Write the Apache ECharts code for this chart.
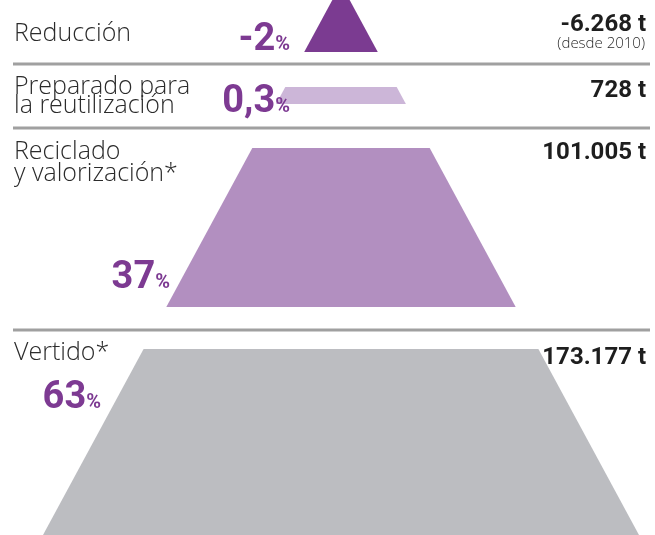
<!DOCTYPE html>
<html>
<head>
<meta charset="utf-8">
<script src="https://cdn.jsdelivr.net/npm/echarts@6/dist/echarts.min.js"></script>
<style>
html,body{margin:0;padding:0;background:#fff;}
#chart{width:655px;height:535px;}
</style>
</head>
<body>
<div id="chart"></div>
<script>
// ---- Data ----
const categories = ['Reducción', 'Preparado para\nla reutilización', 'Reciclado\ny valorización*', 'Vertido*'];
const percentages = [-2, 0.3, 37, 63];
const tonnes = [-6268, 728, 101005, 173177];
const notes = ['(desde 2010)', '', '', ''];
// pyramid depth bands (0 = apex, 100 = base)
const bandStart = [0, 18.69, 29.76, 66.24];
const bandEnd = [12.34, 21.78, 58.62, 100];

// ---- Layout / styles (not data) ----
const bandColors = ['#7b3b91', '#ccb6d8', '#b28fc0', '#bcbdc1'];
const sepDepth = [null, 14.52, 26.13, 62.79];
const labelY = [34, 87, 152, 353];
const labelGap = [0, 19, 22, 0];
const pctRight = [290, 290, 170, 101];
const pctBaseline = [50, 112, 288, 408];
const valueY = [25, 91, 152.5, 358];

const LABEL_FONT = "'Open Sans', 'Roboto', sans-serif";
const BOLD_FONT = "'Roboto', 'Liberation Sans', sans-serif";

function fmtPct(v) { return String(v).replace('.', ','); }
function fmtT(v) {
  const s = Math.abs(v).toString().replace(/\B(?=(\d{3})+(?!\d))/g, '.');
  return (v < 0 ? '-' : '') + s + ' t';
}

function renderItem(params, api) {
  const i = api.value(0);
  const t = bandStart[i], b = bandEnd[i];
  const p1 = api.coord([-t / 100, t]);
  const p2 = api.coord([t / 100, t]);
  const p3 = api.coord([b / 100, b]);
  const p4 = api.coord([-b / 100, b]);
  const W = api.getWidth();
  const children = [];
  children.push({
    type: 'polygon',
    shape: { points: [p1, p2, p3, p4] },
    style: { fill: bandColors[i] }
  });
  if (sepDepth[i] != null) {
    const sy = api.coord([0, sepDepth[i]])[1];
    children.push({
      type: 'line',
      shape: { x1: 13, y1: sy, x2: W - 5, y2: sy },
      style: { stroke: '#a0a0a0', lineWidth: 3 }
    });
  }
  const lines = categories[i].split('\n');
  lines.forEach((ln, k) => {
    children.push({
      type: 'text',
      style: {
        text: ln, x: 14, y: labelY[i] + k * labelGap[i],
        align: 'left', verticalAlign: 'middle',
        font: '300 25px ' + LABEL_FONT, fill: '#2b2b2b'
      }
    });
  });
  // percentage
  children.push({
    type: 'text',
    style: {
      text: '{n|' + fmtPct(percentages[i]) + '}{p|%}',
      x: pctRight[i], y: pctBaseline[i] + 9,
      align: 'right', verticalAlign: 'bottom',
      rich: {
        n: { fontFamily: BOLD_FONT, fontWeight: 'bold', fontSize: 38, fill: '#7d3a92', verticalAlign: 'bottom' },
        p: { fontFamily: BOLD_FONT, fontWeight: 'bold', fontSize: 20, fill: '#7d3a92', verticalAlign: 'bottom', padding: [0, 0, 4, 0] }
      }
    }
  });
  // tonnes
  children.push({
    type: 'text',
    style: {
      text: fmtT(tonnes[i]), x: W - 9, y: valueY[i],
      align: 'right', verticalAlign: 'middle',
      font: 'bold 24px ' + BOLD_FONT, fill: '#1e1e1e'
    }
  });
  if (notes[i]) {
    children.push({
      type: 'text',
      style: {
        text: notes[i], x: W - 10, y: valueY[i] + 19,
        align: 'right', verticalAlign: 'middle',
        font: '300 15px ' + LABEL_FONT, fill: '#2b2b2b'
      }
    });
  }
  return { type: 'group', children };
}

const chart = echarts.init(document.getElementById('chart'), null, { renderer: 'canvas' });
chart.setOption({
  animation: false,
  backgroundColor: '#ffffff',
  grid: { left: 43, right: 16, top: 0, bottom: 0 },
  xAxis: { type: 'value', min: -1, max: 1, show: false },
  yAxis: { type: 'value', min: 2.9, max: 100, inverse: true, show: false },
  series: [{
    type: 'custom',
    coordinateSystem: 'cartesian2d',
    clip: false,
    renderItem: renderItem,
    data: categories.map((c, i) => [i])
  }]
});
</script>
</body>
</html>
